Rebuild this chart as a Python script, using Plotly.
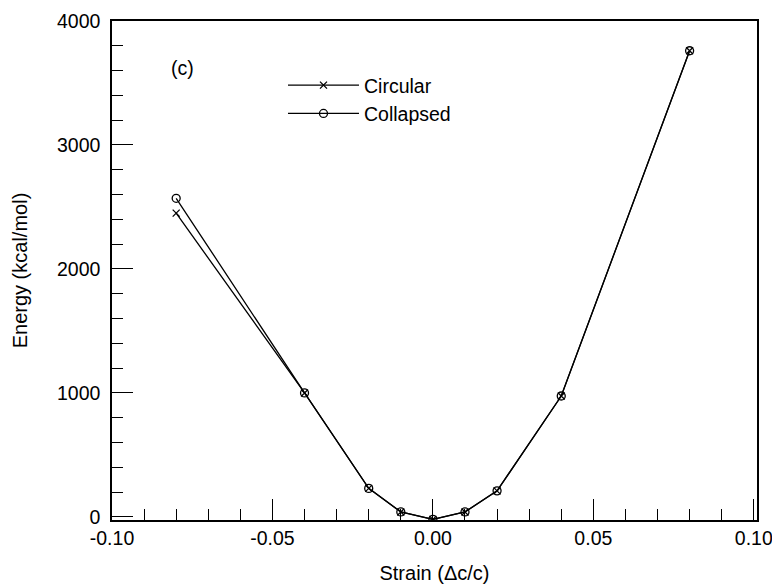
import plotly.graph_objects as go

strain = [-0.08, -0.04, -0.02, -0.01, 0.00, 0.01, 0.02, 0.04, 0.08]
circular = [2450, 1000, 230, 40, -20, 40, 210, 975, 3760]
collapsed = [2570, 1000, 230, 40, -20, 40, 210, 975, 3760]

x_tickvals = [-0.10, -0.05, 0.00, 0.05, 0.10]
x_ticktext = ["-0.10", "-0.05", "0.00", "0.05", "0.10"]
y_tickvals = [0, 1000, 2000, 3000, 4000]
y_ticktext = ["0", "1000", "2000", "3000", "4000"]

font = "Liberation Sans, Arial, Helvetica, sans-serif"

fig = go.Figure()
fig.add_trace(go.Scatter(
    x=strain, y=circular, name="Circular", mode="lines+markers",
    line=dict(color="black", width=1.3),
    marker=dict(symbol="x-thin-open", size=7, color="black", line=dict(color="black", width=1.3)),
))
fig.add_trace(go.Scatter(
    x=strain, y=collapsed, name="Collapsed", mode="lines+markers",
    line=dict(color="black", width=1.3),
    marker=dict(symbol="circle-open", size=8, color="black", line=dict(color="black", width=1.3)),
))

fig.update_layout(
    width=772, height=580,
    margin=dict(l=104, r=23, t=13, b=68, autoexpand=False),
    paper_bgcolor="white", plot_bgcolor="white",
    font=dict(family=font, size=19.5, color="black"),
    showlegend=True,
    legend=dict(x=0.2651, y=0.91, xanchor="left", yanchor="top",
                bgcolor="rgba(0,0,0,0)", font=dict(size=19.5),
                tracegroupgap=0, itemwidth=71),
    annotations=[dict(text="(c)", x=0.11, y=0.905, xref="paper", yref="paper",
                      showarrow=False, font=dict(size=19.5), xanchor="center", yanchor="middle")],
)

fig.update_xaxes(
    range=[-0.1, 0.101], tickvals=x_tickvals, ticktext=x_ticktext,
    ticks="inside", ticklen=21, tickwidth=1.2, tickcolor="black",
    minor=dict(dtick=0.01, tick0=0, ticks="inside", ticklen=11, tickwidth=1.2, tickcolor="black"),
    showline=True, linecolor="black", linewidth=1.5, mirror=True,
    showgrid=False, zeroline=False, automargin=False,
    title=dict(text="Strain (Δc/c)", standoff=18, font=dict(size=20)),
    tickfont=dict(size=19.5),
)
fig.update_yaxes(
    range=[-25, 4000], tickvals=y_tickvals, ticktext=y_ticktext,
    ticks="inside", ticklen=21, tickwidth=1.2, tickcolor="black",
    minor=dict(dtick=200, tick0=0, ticks="inside", ticklen=11, tickwidth=1.2, tickcolor="black"),
    showline=True, linecolor="black", linewidth=1.5, mirror=True,
    showgrid=False, zeroline=False, automargin=False, ticklabelstandoff=6,
    title=dict(text="Energy (kcal/mol)", standoff=24, font=dict(size=20)),
    tickfont=dict(size=19.5),
)

fig.write_html("out.html")
